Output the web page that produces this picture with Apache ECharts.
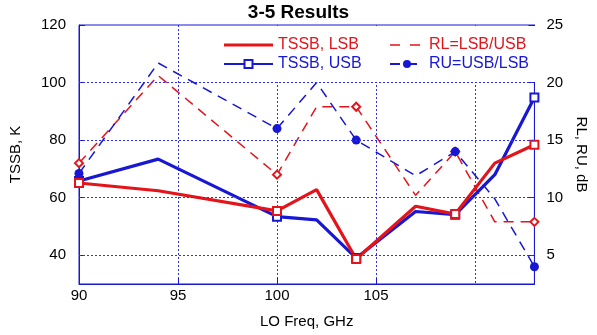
<!DOCTYPE html>
<html>
<head>
<meta charset="utf-8">
<title>3-5 Results</title>
<script src="https://cdn.jsdelivr.net/npm/echarts@6/dist/echarts.min.js"></script>
<style>
  html, body { margin: 0; padding: 0; background: #fff; }
  #chart { width: 597px; height: 335px; }
</style>
</head>
<body>
<div id="chart"></div>
<script>
// LO frequencies (GHz)
const freqs = [90, 94, 100, 102, 104, 107, 109, 111, 113]
// which frequencies carry a marker (measured points)
const measured = [true, false, true, false, true, false, true, false, true]
// TSSB noise temperature, K (left axis)
const tssbLsb = [65.1, 62.4, 55.4, 62.8, 38.7, 57.0, 54.3, 72.0, 78.4]
const tssbUsb = [65.8, 73.4, 53.4, 52.3, 39.0, 55.2, 54.1, 68.0, 94.8]
// sideband ratios, dB (right axis)
const rlRatio = [13.0, 20.6, 12.0, 17.9, 17.9, 10.2, 14.0, 7.9, 7.9]
const ruRatio = [12.1, 21.7, 16.0, 20.0, 15.0, 11.9, 14.0, 9.9, 4.0]
// tick labels
const xTicks = [90, 95, 100, 105, 110]
const leftTicks = [40, 60, 80, 100, 120]
const rightTicks = [5, 10, 15, 20, 25]

const RED = '#e4141b'
const BLUE = '#1717d4'
const GRID = '#2f2ff0'
const FONT = 'Liberation Sans, Arial, Helvetica, sans-serif'

//legend icons without marker: a plain thick line, and a dashed line
//(tiny corner dots keep the path box at itemWidth x itemHeight)
const ICON_SOLID = 'path://M0,0L0.1,0L0.1,0.1Z M0,3.4L49,3.4L49,6.6L0,6.6Z M48.9,10L49,10L49,9.9Z'
const ICON_DASH = 'path://M0,0L0.1,0L0.1,0.1Z M0,4.25L10,4.25L10,5.75L0,5.75Z M20,4.25L30,4.25L30,5.75L20,5.75Z M33.9,10L34,10L34,9.9Z'

// build [x, y] points, markers only on measured points
function points(values, markSymbol) {
  return values.map((v, i) => {
    return { value: [freqs[i], v], symbol: measured[i] ? markSymbol : 'none' }
  })
}

const chart = echarts.init(document.getElementById('chart'), null, { renderer: 'canvas' })

const option = {
  animation: false,
  backgroundColor: '#fff',
  textStyle: { fontFamily: FONT },
  title: {
    text: '3-5 Results',
    left: 'center',
    top: -2,
    textStyle: { fontSize: 19, fontWeight: 'bold', color: '#000', fontFamily: FONT }
  },
  grid: {
    left: 79, right: 58, top: 25, bottom: 51,
    show: true, borderColor: BLUE, borderWidth: 1
  },
  //white box behind the legend, hides the grid lines there
  graphic: [{
    type: 'rect', left: 216, top: 26, z: 1, silent: true,
    shape: { width: 322, height: 56 },
    style: { fill: '#fff' }
  }],
  legend: [{
    orient: 'vertical', left: 223, top: 37, padding: 0,
    itemWidth: 49, itemHeight: 10, itemGap: 3,
    textStyle: { fontSize: 16, fontFamily: FONT },
    data: [
      { name: 'TSSB, LSB', icon: ICON_SOLID, textStyle: { color: RED } },
      { name: 'TSSB, USB', textStyle: { color: BLUE } }
    ]
  }, {
    orient: 'vertical', left: 389, top: 37, padding: 0,
    itemWidth: 34, itemHeight: 10, itemGap: 3,
    textStyle: { fontSize: 16, fontFamily: FONT },
    data: [
      { name: 'RL=LSB/USB', icon: ICON_DASH, textStyle: { color: RED } },
      { name: 'RU=USB/LSB', textStyle: { color: BLUE } }
    ]
  }],
  xAxis: {
    type: 'value', min: 90, max: 113, interval: 5,
    name: 'LO Freq, GHz', nameLocation: 'middle', nameGap: 30,
    nameTextStyle: { fontSize: 15, color: '#000', fontFamily: FONT },
    axisLine: { lineStyle: { color: BLUE, width: 1 } },
    axisTick: { inside: true, length: 6, lineStyle: { color: BLUE }, customValues: xTicks },
    axisLabel: { fontSize: 15, color: '#000', margin: 4, customValues: xTicks, showMaxLabel: false },
    splitLine: { show: true, lineStyle: { color: GRID, type: [2, 2], width: 1 } }
  },
  yAxis: [{
    type: 'value', min: 30, max: 120, interval: 10, position: 'left',
    name: 'TSSB, K', nameLocation: 'middle', nameGap: 56,
    nameTextStyle: { fontSize: 15, color: '#000', fontFamily: FONT },
    axisLine: { show: true, lineStyle: { color: BLUE, width: 1 } },
    axisTick: { show: true, inside: true, length: 6, lineStyle: { color: BLUE }, customValues: leftTicks },
    axisLabel: {
      fontSize: 15, color: '#000', margin: 13, customValues: leftTicks,
      formatter: v => (leftTicks.indexOf(v) >= 0 ? String(v) : '')
    },
    splitLine: { show: false }
  }, {
    type: 'value', min: 2.5, max: 25, interval: 2.5, position: 'right',
    name: 'RL, RU, dB', nameLocation: 'middle', nameGap: 37, nameRotate: -90,
    nameTextStyle: { fontSize: 15, color: '#000', fontFamily: FONT },
    axisLine: { show: true, lineStyle: { color: BLUE, width: 1 } },
    axisTick: { show: true, inside: true, length: 6, lineStyle: { color: BLUE }, customValues: rightTicks },
    axisLabel: {
      fontSize: 15, color: '#000', margin: 12, customValues: rightTicks,
      formatter: v => (rightTicks.indexOf(v) >= 0 ? String(v) : '')
    },
    splitLine: { show: false }
  }],
  series: [
    {
      //horizontal dotted grid lines on the K ticks
      name: 'grid', type: 'line', data: [], yAxisIndex: 0, z: 0,
      markLine: {
        silent: true, symbol: 'none', label: { show: false },
        lineStyle: { color: GRID, type: [2, 2], width: 1 },
        data: leftTicks.slice(0, 4).map(v => ({ yAxis: v }))
      }
    },
    {
      name: 'RL=LSB/USB', type: 'line', yAxisIndex: 1,
      symbol: 'none', symbolSize: 8,
      data: points(rlRatio, 'emptyDiamond'),
      lineStyle: { color: RED, width: 1.5, type: [10, 7] },
      itemStyle: { color: RED, borderWidth: 1 }
    },
    {
      name: 'RU=USB/LSB', type: 'line', yAxisIndex: 1,
      symbol: 'circle', symbolSize: 9,
      data: points(ruRatio, 'circle'),
      lineStyle: { color: BLUE, width: 1.5, type: [10, 7] },
      itemStyle: { color: BLUE }
    },
    {
      name: 'TSSB, USB', type: 'line', yAxisIndex: 0,
      symbol: 'emptyRect', symbolSize: 8,
      data: points(tssbUsb, 'emptyRect'),
      lineStyle: { color: BLUE, width: 3.2 },
      itemStyle: { color: BLUE, borderWidth: 1 }
    },
    {
      name: 'TSSB, LSB', type: 'line', yAxisIndex: 0,
      symbol: 'none', symbolSize: 8,
      data: points(tssbLsb, 'emptyRect'),
      lineStyle: { color: RED, width: 3.2 },
      itemStyle: { color: RED, borderWidth: 1 }
    }
  ]
}

chart.setOption(option)
</script>
</body>
</html>
